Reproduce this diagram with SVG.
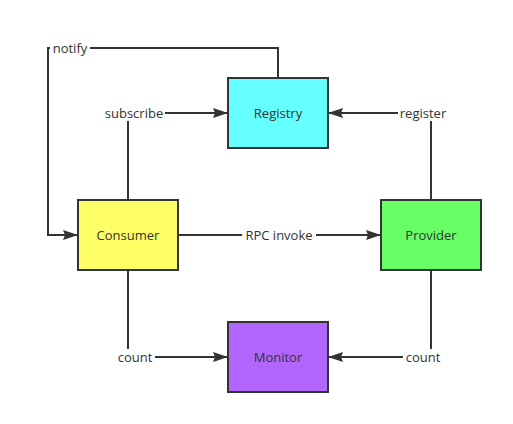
<svg xmlns="http://www.w3.org/2000/svg" width="513" height="424" viewBox="0 0 513 424">
<style>
.box{stroke:#333;stroke-width:2}
.lbl{font-family:"Open Sans","DejaVu Sans",sans-serif;font-size:13px;fill:#333;text-anchor:middle;dominant-baseline:central}
.edge{fill:none;stroke:#333;stroke-width:2}
.bg{fill:#fff}
</style>
<defs>
<marker id="arr" viewBox="0 0 15 10" refX="14" refY="5" markerWidth="15" markerHeight="10" markerUnits="userSpaceOnUse" orient="auto">
<path d="M0,0 L15,5 L0,10 L2,5 Z" fill="#333"/>
</marker>
</defs>
<rect width="513" height="424" fill="#fff"/>
<g id="connectors">
<path class="edge" d="M278,78 V48 H48 V235 H77" marker-end="url(#arr)"/>
<path class="edge" d="M128,200 V113 H227" marker-end="url(#arr)"/>
<path class="edge" d="M431,200 V113 H329" marker-end="url(#arr)"/>
<path class="edge" d="M178,235 H380" marker-end="url(#arr)"/>
<path class="edge" d="M128,270 V357 H227" marker-end="url(#arr)"/>
<path class="edge" d="M431,270 V357 H329" marker-end="url(#arr)"/>
<rect class="bg" x="50" y="40" width="40" height="16"/>
<text class="lbl" x="70" y="48">notify</text>
<rect class="bg" x="104" y="105" width="61" height="16"/>
<text class="lbl" x="134" y="113">subscribe</text>
<rect class="bg" x="398" y="105" width="50" height="16"/>
<text class="lbl" x="423" y="113">register</text>
<rect class="bg" x="242" y="227" width="74" height="16"/>
<text class="lbl" x="279" y="235">RPC invoke</text>
<rect class="bg" x="115" y="349" width="40" height="16"/>
<text class="lbl" x="135" y="357">count</text>
<rect class="bg" x="403" y="349" width="40" height="16"/>
<text class="lbl" x="423" y="357">count</text>
</g>
<g id="registry">
<rect class="box" x="228" y="78" width="100" height="70" fill="#66ffff"/>
<text class="lbl" x="278" y="113">Registry</text>
</g>
<g id="consumer">
<rect class="box" x="78" y="200" width="100" height="70" fill="#ffff66"/>
<text class="lbl" x="128" y="235">Consumer</text>
</g>
<g id="provider">
<rect class="box" x="381" y="200" width="100" height="70" fill="#66ff66"/>
<text class="lbl" x="431" y="235">Provider</text>
</g>
<g id="monitor">
<rect class="box" x="228" y="322" width="100" height="70" fill="#b266ff"/>
<text class="lbl" x="278" y="357">Monitor</text>
</g>
</svg>
